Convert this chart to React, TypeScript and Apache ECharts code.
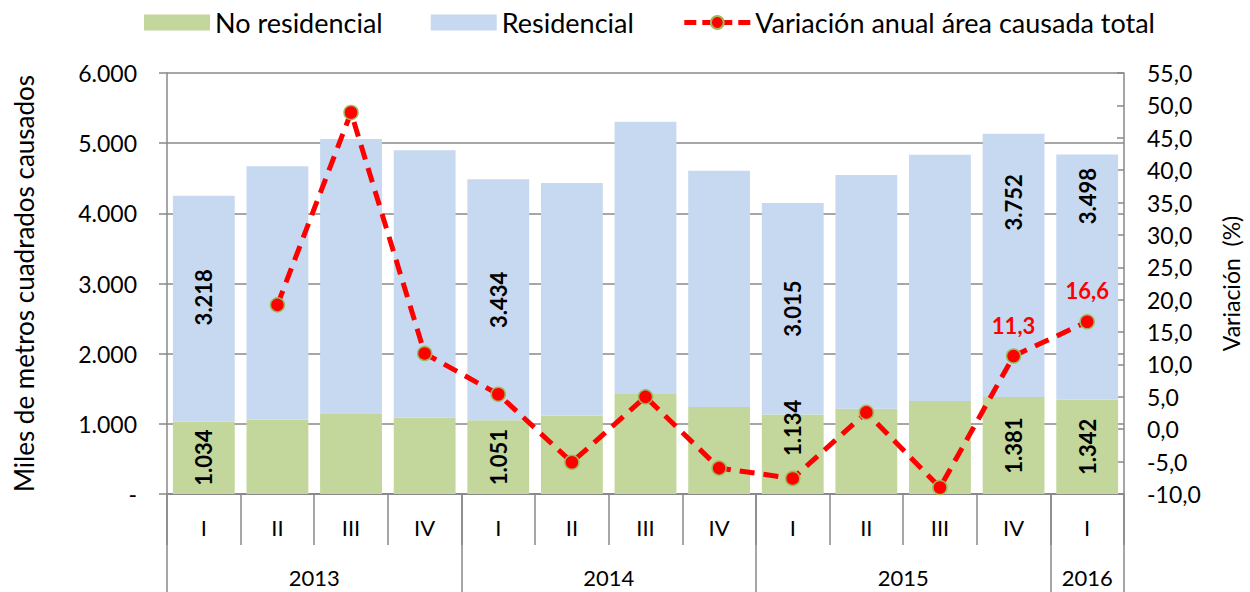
import React, { useEffect, useRef } from "react";
import * as echarts from "echarts";

const quarters = ["I", "II", "III", "IV", "I", "II", "III", "IV", "I", "II", "III", "IV", "I"];
const years = ["2013", "2014", "2015", "2016"];
const yearQuarterCounts = [4, 4, 4, 1];
const noResidencial = [1034, 1059, 1150, 1090, 1051, 1116, 1425, 1240, 1134, 1216, 1325, 1381, 1342];
const residencial = [3218, 3611, 3909, 3808, 3434, 3316, 3881, 3368, 3015, 3330, 3511, 3752, 3498];
const variacion: (number | null)[] = [null, 19.2, 48.9, 11.7, 5.4, -5.1, 5.0, -6.0, -7.6, 2.6, -9.0, 11.3, 16.6];
const labeledBars = [0, 4, 8, 11, 12];
const labeledPoints = [11, 12];

const FONT = "Lato, 'Noto Sans', sans-serif";
const GREEN = "#C3D69B";
const BLUE = "#C6D9F1";
const GRAY = "#898989";

// label placement styles (not data)
const blueLabelPos: Record<number, any> = {
  0: ["50%", "45%"],
  11: ["50%", "26%"],
  12: ["50%", "17%"],
};
const greenLabelPos: Record<number, any> = {
  8: ["50%", "17%"],
};

function fmtThousands(v: number): string {
  const s = Math.round(v).toString();
  return s.replace(/\B(?=(\d{3})+(?!\d))/g, ".");
}

export default function App() {
  const ref = useRef<HTMLDivElement>(null);
  useEffect(() => {
    if (!ref.current) return;
    const chart = echarts.init(ref.current, undefined, { renderer: "svg" });

    // year boundaries and centres in quarter units
    const yearBoundaries: number[] = [0];
    const yearCenters: number[] = [];
    let acc = 0;
    yearQuarterCounts.forEach((n) => {
      yearCenters.push(acc + n / 2);
      acc += n;
      yearBoundaries.push(acc);
    });

    const barLabelBase = {
      show: true,
      rotate: 90,
      fontFamily: FONT,
      fontWeight: "bold" as const,
      fontSize: 22,
      color: "#000",
      align: "center" as const,
      verticalAlign: "middle" as const,
      formatter: (p: any) => fmtThousands(p.value),
    };

    const greenData = noResidencial.map((v, i) =>
      labeledBars.includes(i)
        ? { value: v, label: { ...barLabelBase, position: greenLabelPos[i] || "inside" } }
        : { value: v }
    );
    const blueData = residencial.map((v, i) =>
      labeledBars.includes(i)
        ? { value: v, label: { ...barLabelBase, position: blueLabelPos[i] || "inside" } }
        : { value: v }
    );
    const lineData = variacion.map((v, i) =>
      labeledPoints.includes(i)
        ? {
            value: v,
            label: {
              show: true,
              position: "top",
              distance: 12,
              color: "#FF0000",
              fontWeight: "bold",
              fontSize: 22,
              fontFamily: FONT,
              formatter: (p: any) => Number(p.value).toFixed(1).replace(".", ","),
            },
          }
        : { value: v }
    );

    chart.setOption({
      animation: false,
      textStyle: { fontFamily: FONT },
      legend: {
        top: 4,
        left: 139,
        itemGap: 48,
        itemWidth: 66,
        itemHeight: 16,
        textStyle: { fontFamily: FONT, fontSize: 27, color: "#000" },
        data: [
          { name: "No residencial", icon: "rect" },
          { name: "Residencial", icon: "rect" },
          {
            name: "Variación anual área causada total",
            lineStyle: { width: 5, type: [12, 6], color: "#FF0000" },
          },
        ],
      },
      grid: { left: 167, right: 120, top: 73, bottom: 98, containLabel: false },
      xAxis: [
        {
          type: "category",
          data: quarters,
          position: "bottom",
          axisLine: { show: true, lineStyle: { color: GRAY, width: 1.5 } },
          axisTick: { show: true, interval: 0, length: 51, lineStyle: { color: GRAY, width: 1.5 } },
          axisLabel: { interval: 0, margin: 22, fontSize: 22, color: "#000", fontFamily: FONT },
          splitLine: { show: false },
        },
        {
          type: "value",
          min: 0,
          max: quarters.length,
          position: "bottom",
          axisLine: { show: true, onZero: false, lineStyle: { color: GRAY, width: 1.5 } },
          axisTick: {
            show: true,
            customValues: yearBoundaries,
            length: 98,
            lineStyle: { color: GRAY, width: 1.5 },
          },
          axisLabel: {
            customValues: yearCenters,
            margin: 72,
            fontSize: 22,
            color: "#000",
            fontFamily: FONT,
            formatter: (v: number) => {
              const idx = yearCenters.findIndex((c) => Math.abs(c - v) < 1e-6);
              return idx >= 0 ? years[idx] : "";
            },
          },
          splitLine: { show: false },
        },
      ],
      yAxis: [
        {
          type: "value",
          min: 0,
          max: 6000,
          interval: 1000,
          name: "Miles de metros cuadrados causados",
          nameLocation: "middle",
          nameGap: 130,
          nameRotate: 90,
          nameTextStyle: { fontSize: 26, color: "#000", fontFamily: FONT },
          axisLine: { show: true, lineStyle: { color: GRAY, width: 1.5 } },
          axisTick: { show: true, length: 8, lineStyle: { color: GRAY, width: 1.5 } },
          axisLabel: {
            margin: 30,
            fontSize: 23,
            color: "#000",
            fontFamily: FONT,
            formatter: (v: number) => (v === 0 ? "-" : fmtThousands(v)),
          },
          splitLine: { show: true, lineStyle: { color: GRAY, width: 1.5 } },
        },
        {
          type: "value",
          min: -10,
          max: 55,
          interval: 5,
          position: "right",
          name: "Variación  (%)",
          nameLocation: "middle",
          nameGap: 95,
          nameRotate: 90,
          nameTextStyle: { fontSize: 23, color: "#000", fontFamily: FONT },
          axisLine: { show: true, lineStyle: { color: GRAY, width: 1.5 } },
          axisTick: { show: true, inside: true, length: 7, lineStyle: { color: GRAY, width: 1.5 } },
          axisLabel: {
            margin: 23,
            fontSize: 23,
            color: "#000",
            fontFamily: FONT,
            formatter: (v: number) => v.toFixed(1).replace(".", ","),
          },
          splitLine: { show: false },
        },
      ],
      series: [
        {
          name: "No residencial",
          type: "bar",
          stack: "total",
          barCategoryGap: "16%",
          itemStyle: { color: GREEN },
          data: greenData,
          xAxisIndex: 0,
          yAxisIndex: 0,
        },
        {
          name: "Residencial",
          type: "bar",
          stack: "total",
          barCategoryGap: "16%",
          itemStyle: { color: BLUE },
          data: blueData,
          xAxisIndex: 0,
          yAxisIndex: 0,
        },
        {
          name: "Variación anual área causada total",
          type: "line",
          xAxisIndex: 0,
          yAxisIndex: 1,
          data: lineData,
          symbol: "circle",
          symbolSize: 14,
          lineStyle: { color: "#FF0000", width: 5, type: [15, 9] },
          itemStyle: { color: "#FF0000", borderColor: "#9BBB59", borderWidth: 1.5 },
          z: 5,
        },
      ],
    });
    return () => chart.dispose();
  }, []);
  return (
    <div
      ref={ref}
      style={{ position: "absolute", left: 0, top: 0, width: 1250, height: 592 }}
    />
  );
}
